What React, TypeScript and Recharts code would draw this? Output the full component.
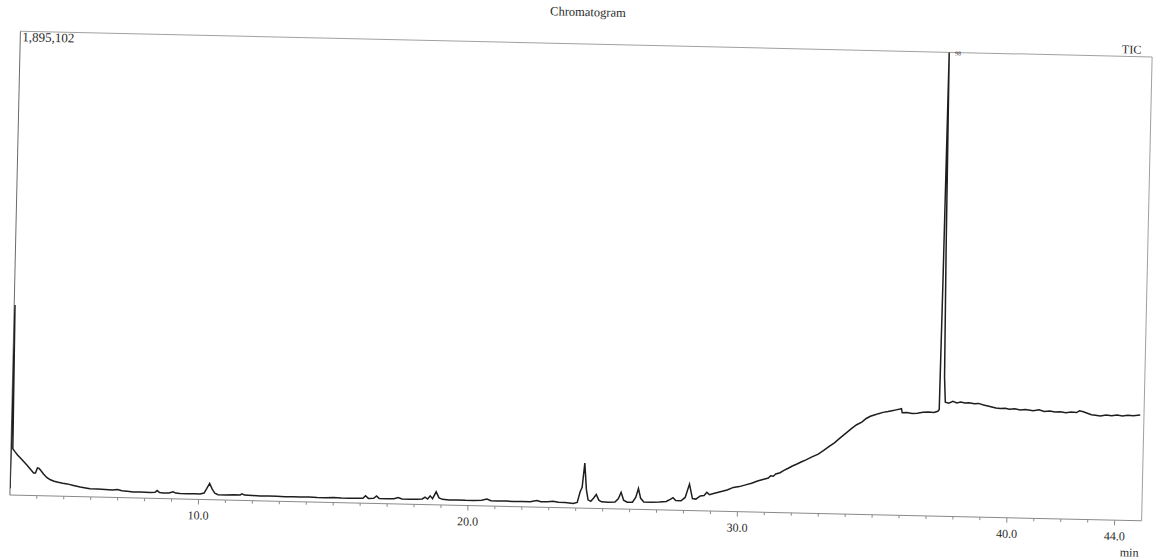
import React from 'react';
import { LineChart, Line, XAxis, YAxis, ReferenceLine } from 'recharts';

// retention time (min) and relative signal (% of full scale 1,895,102)
const TIMES = [
  3.0, 3.03, 3.07, 3.15, 3.25, 3.37, 3.5, 3.63, 3.75, 3.86, 3.93, 4.0, 4.06, 4.12, 4.23, 4.35,
  4.49, 4.63, 4.78, 4.95, 5.12, 5.35, 5.6, 5.8, 5.97, 6.25, 6.53, 6.8, 6.98, 7.15, 7.35, 7.57,
  7.85, 8.2, 8.38, 8.46, 8.55, 8.69, 8.9, 9.05, 9.15, 9.31, 9.6, 9.85, 10.05, 10.2, 10.3, 10.4,
  10.5, 10.6, 10.72, 11.0, 11.3, 11.54, 11.61, 11.7, 12.0, 12.28, 12.6, 12.9, 13.2, 13.5, 13.76,
  14.1, 14.4, 14.7, 15.0, 15.3, 15.6, 15.9, 16.1, 16.19, 16.3, 16.5, 16.6, 16.7, 17.0, 17.25,
  17.4, 17.55, 17.8, 18.1, 18.3, 18.4, 18.5, 18.59, 18.68, 18.81, 18.92, 19.05, 19.3, 19.6,
  19.9, 20.2, 20.5, 20.7, 20.85, 21.1, 21.4, 21.7, 22.0, 22.3, 22.56, 22.7, 22.95, 23.15, 23.35,
  23.6, 23.9, 24.05, 24.15, 24.22, 24.3, 24.38, 24.45, 24.55, 24.65, 24.75, 24.85, 24.95, 25.2,
  25.45, 25.57, 25.67, 25.77, 25.9, 26.1, 26.22, 26.31, 26.4, 26.52, 26.8, 27.1, 27.35, 27.5,
  27.6, 27.7, 27.9, 28.05, 28.2, 28.32, 28.45, 28.61, 28.75, 28.85, 28.95, 29.1, 29.35, 29.6,
  29.83, 30.05, 30.28, 30.5, 30.72, 30.95, 31.12, 31.2, 31.3, 31.39, 31.55, 31.69, 31.85, 32.0,
  32.15, 32.32, 32.5, 32.7, 32.95, 33.15, 33.35, 33.54, 33.75, 33.95, 34.17, 34.35, 34.54, 34.7,
  34.85, 35.0, 35.15, 35.32, 35.5, 35.65, 35.8, 35.95, 36.0, 36.03, 36.2, 36.4, 36.59, 36.8,
  37.0, 37.2, 37.35, 37.4, 37.43, 37.47, 37.52, 37.57, 37.62, 37.75, 37.9, 38.05, 38.19, 38.35,
  38.5, 38.7, 38.85, 39.04, 39.2, 39.35, 39.5, 39.67, 39.85, 40.0, 40.2, 40.4, 40.6, 40.89,
  41.1, 41.3, 41.5, 41.7, 41.89, 42.1, 42.3, 42.5, 42.6, 42.75, 42.9, 43.05, 43.2, 43.38, 43.6,
  43.8, 44.0, 44.2, 44.4, 44.6, 44.86,
];

const SIGNAL = [
  1.5, 41.0, 10.0, 9.4, 8.7, 8.0, 7.2, 6.4, 5.6, 4.9, 4.9, 6.0, 5.9, 5.5, 4.7, 4.0,
  3.5, 3.2, 3.0, 2.8, 2.7, 2.4, 2.1, 1.9, 1.75, 1.75, 1.7, 1.6, 1.75, 1.5, 1.4, 1.3,
  1.3, 1.25, 1.3, 1.7, 1.3, 1.2, 1.25, 1.5, 1.25, 1.2, 1.15, 1.2, 1.15, 1.4, 2.4, 3.5,
  2.3, 1.4, 1.1, 1.1, 1.15, 1.15, 1.4, 1.15, 1.1, 1.05, 1.1, 1.05, 1.0, 1.05, 1.0,
  1.05, 1.0, 1.0, 1.05, 1.0, 1.0, 1.05, 1.05, 1.6, 1.05, 1.1, 1.6, 1.1, 1.05, 1.1,
  1.4, 1.1, 1.05, 1.1, 1.2, 1.6, 1.2, 1.9, 1.3, 2.8, 1.5, 1.2, 1.1, 1.15,
  1.1, 1.1, 1.2, 1.5, 1.15, 1.1, 1.15, 1.1, 1.15, 1.1, 1.4, 1.15, 1.2, 1.35, 1.15,
  1.1, 0.95, 1.2, 3.5, 4.5, 9.7, 4.0, 1.8, 1.5, 2.2, 3.0, 1.8, 1.45, 1.4,
  1.45, 2.2, 3.6, 1.9, 1.5, 1.5, 2.6, 4.5, 2.4, 1.6, 1.6, 1.7, 1.85, 2.3,
  2.7, 2.1, 2.05, 2.8, 5.7, 2.6, 2.5, 3.2, 3.3, 4.0, 3.5, 3.8, 4.2, 4.6,
  5.2, 5.4, 5.8, 6.2, 6.7, 7.1, 7.4, 7.9, 7.8, 8.3, 8.6, 9.1, 9.6, 10.1,
  10.5, 11.0, 11.5, 12.1, 12.8, 13.6, 14.5, 15.3, 16.4, 17.4, 18.5, 19.3, 19.9, 20.7,
  21.2, 21.5, 21.8, 22.1, 22.3, 22.5, 22.7, 22.9, 23.0, 22.1, 22.2, 22.0, 22.1, 22.3,
  22.4, 22.3, 22.6, 23.0, 50, 100, 58, 30, 24.6, 24.4, 24.8, 24.5, 24.7, 24.5,
  24.6, 24.4, 24.5, 24.2, 24.0, 23.8, 23.6, 23.5, 23.6, 23.4, 23.5, 23.3, 23.4, 23.2,
  23.4, 23.1, 23.2, 23.0, 23.1, 22.9, 23.1, 23.0, 23.4, 23.2, 22.9, 22.6, 22.5, 22.4, 22.6,
  22.5, 22.7, 22.5, 22.7, 22.6, 22.8,
];

const TICKS = [4, 5, 6, 7, 8, 9, 10, 11, 12, 13, 14, 15, 16, 17, 18, 19, 20, 21, 22, 23, 24,
  25, 26, 27, 28, 29, 30, 31, 32, 33, 34, 35, 36, 37, 38, 39, 40, 41, 42, 43, 44];
const LABELLED = [10, 20, 30, 40, 44];

const data = TIMES.map((t, i) => ({ t, v: SIGNAL[i] }));

const FONT = '"Liberation Serif", "DejaVu Serif", serif';

function TimeTick({ x, y, payload }: any) {
  const major = LABELLED.includes(payload.value);
  return (
    <g>
      <line x1={x} x2={x} y1={y} y2={y + (major ? 5 : 3)} stroke="#8a8a8a" />
      {major && (
        <text x={x} y={y + 20} textAnchor="middle" fontFamily={FONT} fontSize={12} fill="#2a2a2a">
          {payload.value.toFixed(1)}
        </text>
      )}
    </g>
  );
}

const txt = (extra: React.CSSProperties): React.CSSProperties => ({
  position: 'absolute',
  fontFamily: FONT,
  color: '#2a2a2a',
  lineHeight: 1,
  whiteSpace: 'nowrap',
  ...extra,
});

export default function App() {
  return (
    <div
      style={{
        position: 'absolute',
        left: 0,
        top: 0,
        width: 1154,
        height: 558,
        background: '#fff',
        transform: 'rotate(1.3deg)',
        transformOrigin: '580px 276px',
      }}
    >
      <LineChart width={1154} height={558} data={data} margin={{ top: 44, right: 7, bottom: 20, left: 15 }}>
        <XAxis
          dataKey="t"
          type="number"
          domain={[3, 45]}
          ticks={TICKS}
          allowDataOverflow
          interval={0}
          height={30}
          tickSize={0}
          tickMargin={0}
          tickLine={false}
          tick={<TimeTick />}
          axisLine={{ stroke: '#8a8a8a' }}
        />
        <YAxis type="number" domain={[0, 100]} allowDataOverflow hide />
        <ReferenceLine y={100} stroke="#a0a0a0" />
        <ReferenceLine x={45} stroke="#a0a0a0" />
        <ReferenceLine x={3} stroke="#6a6a6a" />
        <Line
          type="linear"
          dataKey="v"
          stroke="#1e1e1e"
          strokeWidth={1.5}
          dot={false}
          isAnimationActive={false}
        />
      </LineChart>
      <div style={txt({ left: 542, top: 6, fontSize: 12.5, width: 80, textAlign: 'center' })}>Chromatogram</div>
      <div style={txt({ left: 17, top: 43, fontSize: 13 })}>1,895,102</div>
      <div style={txt({ left: 1096, top: 31, fontSize: 12, width: 40, textAlign: 'right' })}>TIC</div>
      <div style={txt({ left: 950, top: 42, fontSize: 6 })}>98</div>
      <div style={txt({ left: 1126, top: 534, fontSize: 12 })}>min</div>
    </div>
  );
}
